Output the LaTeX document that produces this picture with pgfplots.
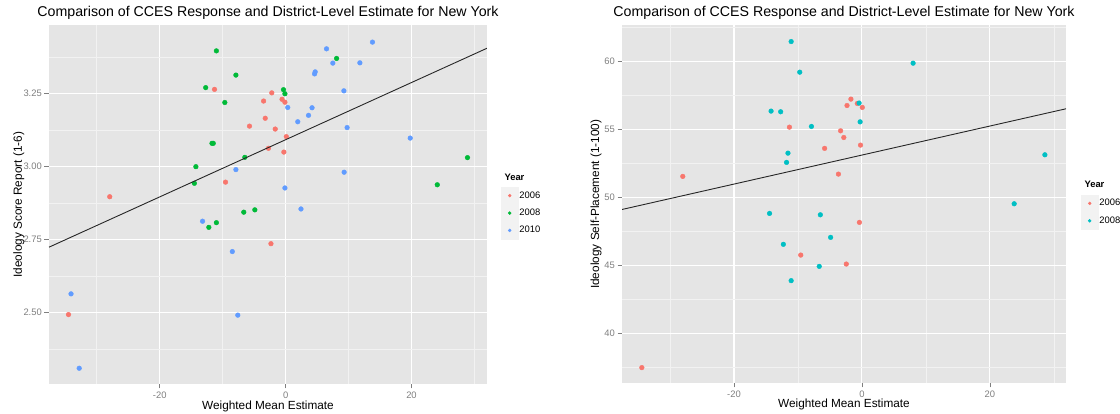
\documentclass[border=0pt]{standalone}
\usepackage{fontspec}
\setmainfont{Liberation Sans}
\usepackage{pgfplots}
\pgfplotsset{compat=1.18}

\definecolor{panelbg}{HTML}{E5E5E5}
\definecolor{minorgrid}{HTML}{F2F2F2}
\definecolor{tickgray}{HTML}{7F7F7F}
\definecolor{keybg}{HTML}{F2F2F2}
\definecolor{hueR}{HTML}{F8766D}
\definecolor{hueG}{HTML}{00BA38}
\definecolor{hueB}{HTML}{619CFF}
\definecolor{hueC}{HTML}{00BFC4}

\pgfplotsset{
  ggpanel/.style={
    scale only axis,
    axis background/.style={fill=panelbg},
    axis line style={draw=none},
    grid=both,
    major grid style={white, line width=1.1pt},
    minor grid style={minorgrid, line width=0.7pt},
    tick style={tickgray, line width=0.6pt},
    tick align=outside,
    major tick length=4.5pt,
    minor tick length=0pt,
    xtick pos=bottom, ytick pos=left,
    ticklabel style={font=\fontsize{9.4}{11}\selectfont, text=tickgray},
    yticklabel style={inner sep=2.5pt},
    /pgf/number format/assume math mode=true,
    title style={font=\fontsize{14.2}{16}\selectfont, at={(axis description cs:0.5,1)}, anchor=base, yshift=2.8pt},
    xlabel style={font=\fontsize{11.8}{13}\selectfont, at={(axis description cs:0.5,0)}, anchor=base, yshift=-26pt},
    ylabel style={font=\fontsize{11.8}{13}\selectfont},
    clip mode=individual,
    legend style={draw=none, fill=none, inner sep=0pt, outer sep=0pt,
      row sep=0pt, column sep=0pt, font=\fontsize{9.4}{11}\selectfont,
      nodes={inner xsep=1pt, inner ysep=0pt, anchor=west}},
    legend cell align=left,
    legend image code/.code={
      \fill[keybg] (0pt,-8.5pt) rectangle (17pt,8.5pt);
      \fill (8.5pt,0pt) circle (1.5pt);
    },
  },
  pts/.style={only marks, mark=*, color=#1, mark size=2.35pt, mark options={draw=none, fill=#1}},
}

\begin{document}
\begin{tikzpicture}[x=1pt,y=1pt]
\useasboundingbox (0,0) rectangle (1120,414);

% Ideology score (1-6) against the weighted mean estimate
\begin{axis}[ggpanel,
  at={(49pt,30pt)}, anchor=south west,
  width=438pt, height=358.5pt,
  xmin=-37.6, xmax=32.0, ymin=2.255, ymax=3.484,
  xtick={-20,0,20}, xticklabels={-20,0,20},
  minor xtick={-30,-10,10,30},
  ytick={2.5,2.75,3,3.25}, yticklabels={2.50,2.75,3.00,3.25},
  minor ytick={2.375,2.625,2.875,3.125,3.375},
  title={Comparison of CCES Response and District-Level Estimate for New York},
  xlabel={Weighted Mean Estimate},
  ylabel={Ideology Score Report (1-6)},
  ylabel style={at={([xshift=-27pt]axis description cs:0,0.5)}, anchor=base},
  legend style={at={(axis description cs:1.032,0.5496)}, anchor=north west},
]
\addplot[pts=hueR] coordinates {
  (-34.5,2.493) (-27.95,2.897) (-11.3,3.265) (-2.2,3.253) (-3.5,3.225)
  (-0.57,3.231) (-0.11,3.221) (-3.24,3.166) (-5.74,3.139) (-1.65,3.129)
  (0.11,3.103) (-2.73,3.063) (-0.28,3.050) (-9.55,2.947) (-2.33,2.736)
};
\addlegendentry{2006}
\addplot[pts=hueG] coordinates {
  (-11.0,3.397) (-7.9,3.314) (-12.7,3.271) (-9.66,3.220) (-0.34,3.264)
  (-0.11,3.250) (-11.7,3.080) (-11.5,3.080) (-6.48,3.032) (-14.26,3.000)
  (-14.5,2.943) (-6.65,2.844) (-4.89,2.852) (-11.0,2.808) (-12.2,2.792)
  (8.1,3.371) (24.1,2.938) (28.9,3.031)
};
\addlegendentry{2008}
\addplot[pts=hueB] coordinates {
  (-34.1,2.564) (-32.8,2.309) (-7.6,2.491) (-8.47,2.709) (-13.2,2.813)
  (-7.9,2.990) (-0.11,2.927) (2.44,2.855) (0.34,3.203) (1.93,3.154)
  (3.64,3.176) (4.2,3.202) (4.6,3.318) (4.7,3.325) (6.5,3.404)
  (7.5,3.355) (11.8,3.356) (13.8,3.427) (9.26,3.260) (9.77,3.134)
  (9.3,2.981) (19.8,3.098)
};
\addlegendentry{2010}
% fitted line
\addplot[forget plot, black!85, line width=0.9pt] coordinates {(-37.6,2.724) (32.0,3.406)};
\end{axis}
\node[anchor=base west, font=\fontsize{9.4}{11}\selectfont\bfseries] at (501,233.3) {Year};

% Self-placement (1-100) against the weighted mean estimate
\begin{axis}[ggpanel,
  at={(622pt,31pt)}, anchor=south west,
  width=444pt, height=357.5pt,
  xmin=-37.5, xmax=31.9, ymin=36.35, ymax=62.62,
  xtick={-20,0,20}, xticklabels={-20,0,20},
  minor xtick={-30,-10,10,30},
  ytick={40,45,50,55,60}, yticklabels={40,45,50,55,60},
  minor ytick={37.5,42.5,47.5,52.5,57.5,62.5},
  title={Comparison of CCES Response and District-Level Estimate for New York},
  xlabel={Weighted Mean Estimate},
  ylabel={Ideology Self-Placement (1-100)},
  ylabel style={at={([xshift=-23pt]axis description cs:0,0.5)}, anchor=base},
  xlabel style={yshift=1pt},
  legend style={at={(axis description cs:1.0338,0.5268)}, anchor=north west},
]
\addplot[pts=hueR] coordinates {
  (-34.4,37.48) (-28.0,51.53) (-11.33,55.15) (-1.72,57.21) (-2.33,56.74)
  (-0.72,56.89) (0.06,56.60) (-3.33,54.88) (-2.83,54.39) (-5.83,53.59)
  (-0.22,53.83) (-3.67,51.70) (-0.39,48.15) (-9.56,45.75) (-2.44,45.09)
};
\addlegendentry{2006}
\addplot[pts=hueC] coordinates {
  (-11.06,61.44) (-9.72,59.19) (8.0,59.85) (-14.2,56.33) (-12.7,56.28)
  (-7.89,55.20) (-0.44,56.92) (-0.28,55.54) (-11.56,53.24) (-11.78,52.56)
  (28.6,53.12) (23.8,49.52) (-14.44,48.81) (-6.5,48.71) (-4.89,47.05)
  (-12.28,46.54) (-6.67,44.92) (-11.06,43.87)
};
\addlegendentry{2008}
% fitted line
\addplot[forget plot, black!85, line width=0.9pt] coordinates {(-37.5,49.1) (31.9,56.5)};
\end{axis}
\node[anchor=base west, font=\fontsize{9.4}{11}\selectfont\bfseries] at (1081,226) {Year};
\end{tikzpicture}
\end{document}
